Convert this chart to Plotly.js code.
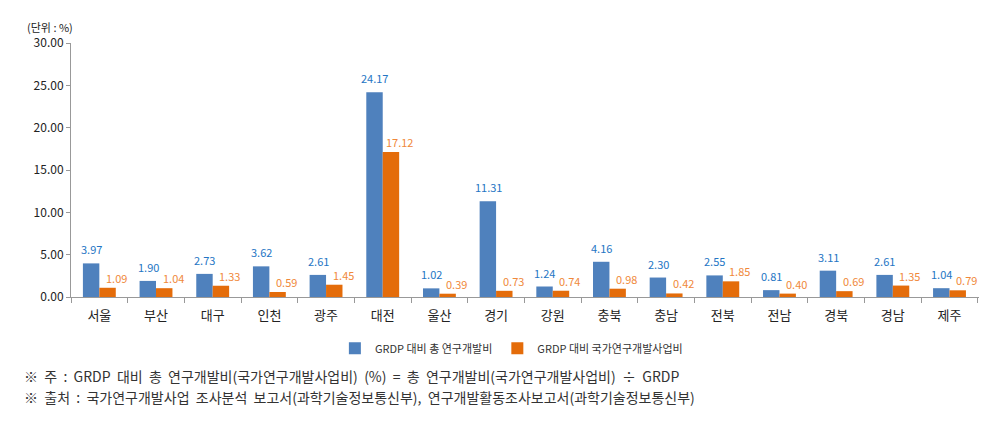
<!DOCTYPE html>
<html><head><meta charset="utf-8">
<script src="https://cdn.plot.ly/plotly-3.0.1.min.js"></script>
<style>html,body{margin:0;padding:0;background:#fff}</style>
</head><body>
<div id="chart" style="width:1002px;height:430px"></div>
<script>
const regions = ['서울','부산','대구','인천','광주','대전','울산','경기','강원','충북','충남','전북','전남','경북','경남','제주'];
const totalRnD = [3.97,1.90,2.73,3.62,2.61,24.17,1.02,11.31,1.24,4.16,2.30,2.55,0.81,3.11,2.61,1.04];
const nationalRnD = [1.09,1.04,1.33,0.59,1.45,17.12,0.39,0.73,0.74,0.98,0.42,1.85,0.40,0.69,1.35,0.79];
const seriesNames = ['GRDP 대비 총 연구개발비','GRDP 대비 국가연구개발사업비'];
const yTicks = [0,5,10,15,20,25,30];
const unitText = '(단위 : %)';
const note1 = '※  주  :  GRDP  대비  총  연구개발비(국가연구개발사업비)  (%)  =  총  연구개발비(국가연구개발사업비)  ÷  GRDP';
const note2 = '※  출처  :  국가연구개발사업  조사분석  보고서(과학기술정보통신부),  연구개발활동조사보고서(과학기술정보통신부)';

const font = 'Noto Sans CJK KR, Noto Sans, sans-serif';
const blue = '#4F81BD', orange = '#E46C0A';
const blueLbl = '#2475C4', orangeLbl = '#F0883A';
const traces = [
  {type:'bar', name:seriesNames[0], x:regions, y:totalRnD, marker:{color:blue}},
  {type:'bar', name:seriesNames[1], x:regions, y:nationalRnD, marker:{color:orange}}
];
const labelAnns = [];
regions.forEach((r,i)=>{
  labelAnns.push({xref:'x', yref:'y', x:r, y:totalRnD[i], text:totalRnD[i].toFixed(2), showarrow:false,
    xshift:-8, yshift:14, yanchor:'middle', xanchor:'center', font:{size:11, color:blueLbl}});
  labelAnns.push({xref:'x', yref:'y', x:r, y:nationalRnD[i], text:nationalRnD[i].toFixed(2), showarrow:false,
    xshift:17, yshift:10, yanchor:'middle', xanchor:'center', font:{size:11, color:orangeLbl}});
});
const layout = {
  width:1002, height:430,
  margin:{l:71, r:23, t:43, b:133},
  paper_bgcolor:'#fff', plot_bgcolor:'#fff',
  font:{family:font, color:'#333'},
  barmode:'group', bargap:0.42, bargroupgap:0,
  showlegend:true,
  legend:{orientation:'h', x:0.485, xanchor:'center', y:-0.145, yanchor:'top', font:{size:11, color:'#333'}, itemwidth:30, tracegroupgap:0},
  xaxis:{type:'category', showline:true, linecolor:'#999', linewidth:1, ticks:'outside', tickson:'boundaries', ticklen:5, tickcolor:'#999',
         ticklabelstandoff:6, tickfont:{size:13, color:'#222'}, showgrid:false, zeroline:false},
  yaxis:{range:[0,30], tickvals:yTicks, ticktext:yTicks.map(v=>v.toFixed(2)), showline:true, linecolor:'#999', linewidth:1,
         ticks:'outside', ticklen:4, tickcolor:'#999', showgrid:false, zeroline:false, tickfont:{size:12, color:'#222'}},
  annotations:[
    {text:unitText, xref:'paper', yref:'paper', x:-0.023, y:1.025, xanchor:'center', yanchor:'bottom', showarrow:false, font:{size:11, color:'#222'}},
    {text:note1, xref:'paper', yref:'paper', x:-0.054, y:-0.262, xanchor:'left', yanchor:'top', showarrow:false, font:{size:14, color:'#333'}},
    {text:note2, xref:'paper', yref:'paper', x:-0.054, y:-0.347, xanchor:'left', yanchor:'top', showarrow:false, font:{size:14, color:'#333'}}
  ].concat(labelAnns)
};
Plotly.newPlot('chart', traces, layout, {displayModeBar:false, staticPlot:true});
</script>
</body></html>
